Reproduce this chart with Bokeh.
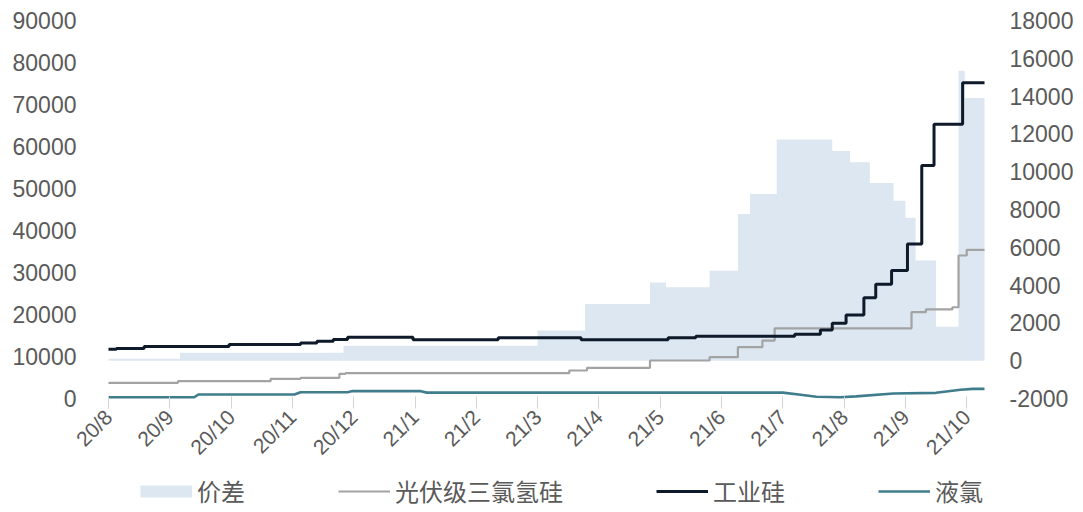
import calendar
import math
from bokeh.plotting import figure
from bokeh.layouts import column
from bokeh.models import Range1d, LinearAxis, FixedTicker, Legend, LegendItem, ColumnDataSource
from bokeh.embed import file_html
from bokeh.resources import INLINE

# ---------------- data ----------------
month_labels = ["20/8", "20/9", "20/10", "20/11", "20/12", "21/1", "21/2", "21/3",
                "21/4", "21/5", "21/6", "21/7", "21/8", "21/9", "21/10"]

# 价差 (right axis)
spread_dates = ["2020-08-01", "2020-09-06", "2020-11-26", "2021-03-01", "2021-03-25",
                "2021-04-26", "2021-05-04", "2021-05-26", "2021-06-09", "2021-06-15",
                "2021-06-28", "2021-07-26", "2021-08-04", "2021-08-14", "2021-08-26",
                "2021-09-01", "2021-09-06", "2021-09-16", "2021-09-27", "2021-09-30",
                "2021-10-10"]
spread_values = [100, 420, 790, 1600, 3000,
                 4140, 3880, 4760, 7760, 8820,
                 11700, 11100, 10500, 9400, 8460,
                 7560, 5300, 1800, 15340, 13900,
                 13900]

# 光伏级三氯氢硅 (left axis)
tcs_dates = ["2020-08-01", "2020-09-05", "2020-10-21", "2020-11-05", "2020-11-24",
             "2020-11-27", "2021-03-17", "2021-03-26", "2021-04-26", "2021-05-26",
             "2021-06-09", "2021-06-21", "2021-06-27", "2021-09-04", "2021-09-11",
             "2021-09-24", "2021-09-27", "2021-10-01", "2021-10-10"]
tcs_values = [3730, 4120, 4690, 4930, 5880,
              6020, 6670, 7300, 9050, 9840,
              12220, 13800, 16700, 20550, 21200,
              21730, 34050, 35400, 35400]

# 工业硅 (left axis)
si_dates = ["2020-08-01", "2020-08-05", "2020-08-19", "2020-09-30", "2020-11-05",
            "2020-11-13", "2020-11-21", "2020-11-28", "2020-12-31", "2021-02-11",
            "2021-03-23", "2021-05-05", "2021-05-19", "2021-07-07", "2021-07-20",
            "2021-07-26", "2021-08-02", "2021-08-11", "2021-08-17", "2021-08-25",
            "2021-09-02", "2021-09-09", "2021-09-15", "2021-09-29", "2021-10-10"]
si_values = [11700, 11900, 12400, 12860, 13200,
             13650, 14050, 14600, 14000, 14450,
             14000, 14450, 14830, 15300, 16300,
             17900, 19900, 24000, 27200, 30500,
             36800, 55500, 65300, 75200, 75200]

# 液氯 (left axis)
cl_dates = ["2020-08-01", "2020-09-13", "2020-09-15", "2020-11-02", "2020-11-05",
            "2020-11-28", "2020-11-30", "2021-01-04", "2021-01-07", "2021-07-01",
            "2021-07-10", "2021-07-18", "2021-07-30", "2021-08-07", "2021-08-26",
            "2021-09-16", "2021-09-28", "2021-10-04", "2021-10-10"]
cl_values = [300, 300, 950, 950, 1500,
             1500, 1750, 1750, 1400, 1400,
             900, 400, 300, 500, 1200,
             1350, 2100, 2300, 2300]

left_ticks = [0, 10000, 20000, 30000, 40000, 50000, 60000, 70000, 80000, 90000]
right_ticks = [-2000, 0, 2000, 4000, 6000, 8000, 10000, 12000, 14000, 16000, 18000]
series_names = ["价差", "光伏级三氯氢硅", "工业硅", "液氯"]

AREA = "#dde7f2"
GRAY = "#a3a3a3"
BLACK = "#0e1a2a"
TEAL = "#3f7d8c"
TXT = "#5a5a5a"


def month_pos(d):
    y, m, day = map(int, d.split("-"))
    return (y - 2020) * 12 + (m - 8) + (day - 1) / calendar.monthrange(y, m)[1]


spread_src = ColumnDataSource(dict(x=[month_pos(d) for d in spread_dates], y=spread_values))
tcs_src = ColumnDataSource(dict(x=[month_pos(d) for d in tcs_dates], y=tcs_values))
si_src = ColumnDataSource(dict(x=[month_pos(d) for d in si_dates], y=si_values))
cl_src = ColumnDataSource(dict(x=[month_pos(d) for d in cl_dates], y=cl_values))

# ---------------- main figure ----------------
p = figure(width=1083, height=470, output_backend="svg", toolbar_location=None,
           x_range=Range1d(-0.212, 14.388), y_range=Range1d(-476, 91905),
           min_border_left=95, min_border_right=93, min_border_top=12, min_border_bottom=70)
p.extra_y_ranges = {"right": Range1d(-2106, 18423)}
p.outline_line_color = None
p.xgrid.visible = False
p.ygrid.visible = False

p.varea_step(x="x", y1=0, y2="y", step_mode="after", source=spread_src,
             y_range_name="right", fill_color=AREA, fill_alpha=1.0)
p.step(x="x", y="y", mode="after", source=tcs_src, line_color=GRAY, line_width=2.2)
p.line(x="x", y="y", source=cl_src, line_color=TEAL, line_width=2.6)
p.step(x="x", y="y", mode="after", source=si_src, line_color=BLACK, line_width=3)

yl = p.yaxis[0]
yl.ticker = FixedTicker(ticks=left_ticks)
yr = LinearAxis(y_range_name="right", ticker=FixedTicker(ticks=right_ticks))
yr.major_label_overrides = {t: str(t) for t in right_ticks if t < 0}
p.add_layout(yr, "right")
for ax in (yl, yr):
    ax.axis_line_color = None
    ax.major_tick_line_color = None
    ax.minor_tick_line_color = None
    ax.major_label_text_font = "Liberation Sans"
    ax.major_label_text_font_size = "23px"
    ax.major_label_text_color = TXT
    ax.major_label_standoff = 13

xa = p.xaxis[0]
xa.ticker = FixedTicker(ticks=list(range(len(month_labels))))
xa.major_label_overrides = {i: lab for i, lab in enumerate(month_labels)}
xa.major_label_orientation = math.pi / 4
xa.axis_line_color = None
xa.major_tick_line_color = "#d4d4d4"
xa.major_tick_in = 4
xa.major_tick_out = 8
xa.minor_tick_line_color = None
xa.major_label_text_font = "Liberation Sans"
xa.major_label_text_font_size = "21px"
xa.major_label_text_color = TXT
xa.major_label_standoff = 5

# ---------------- legend strip ----------------
lf = figure(width=1083, height=42, output_backend="svg", toolbar_location=None,
            x_range=Range1d(0, 1), y_range=Range1d(0, 1),
            x_axis_type=None, y_axis_type=None, min_border=0)
lf.outline_line_color = None
lf.xgrid.visible = False
lf.ygrid.visible = False
# key renderers lie outside the visible range; only their legend swatches show
kx, ky = [-5, -4], [-5, -5]
k1 = lf.line(x=kx, y=ky, line_color=AREA, line_width=12)
k2 = lf.line(x=kx, y=ky, line_color=GRAY, line_width=2.2)
k3 = lf.line(x=kx, y=ky, line_color=BLACK, line_width=3)
k4 = lf.line(x=kx, y=ky, line_color=TEAL, line_width=2.6)

legend = Legend(items=[LegendItem(label=n, renderers=[r])
                       for n, r in zip(series_names, [k1, k2, k3, k4])],
                orientation="horizontal", location=(45, 4))
legend.label_text_font = "Noto Sans CJK SC"
legend.label_text_font_size = "24px"
legend.label_text_color = TXT
legend.glyph_width = 52
legend.glyph_height = 28
legend.label_height = 28
legend.label_standoff = 5
legend.spacing = 93
legend.padding = 0
legend.margin = 0
legend.border_line_color = None
legend.background_fill_alpha = 0
lf.add_layout(legend, "center")

open("out.html", "w").write(file_html(column(p, lf, spacing=0), INLINE))
